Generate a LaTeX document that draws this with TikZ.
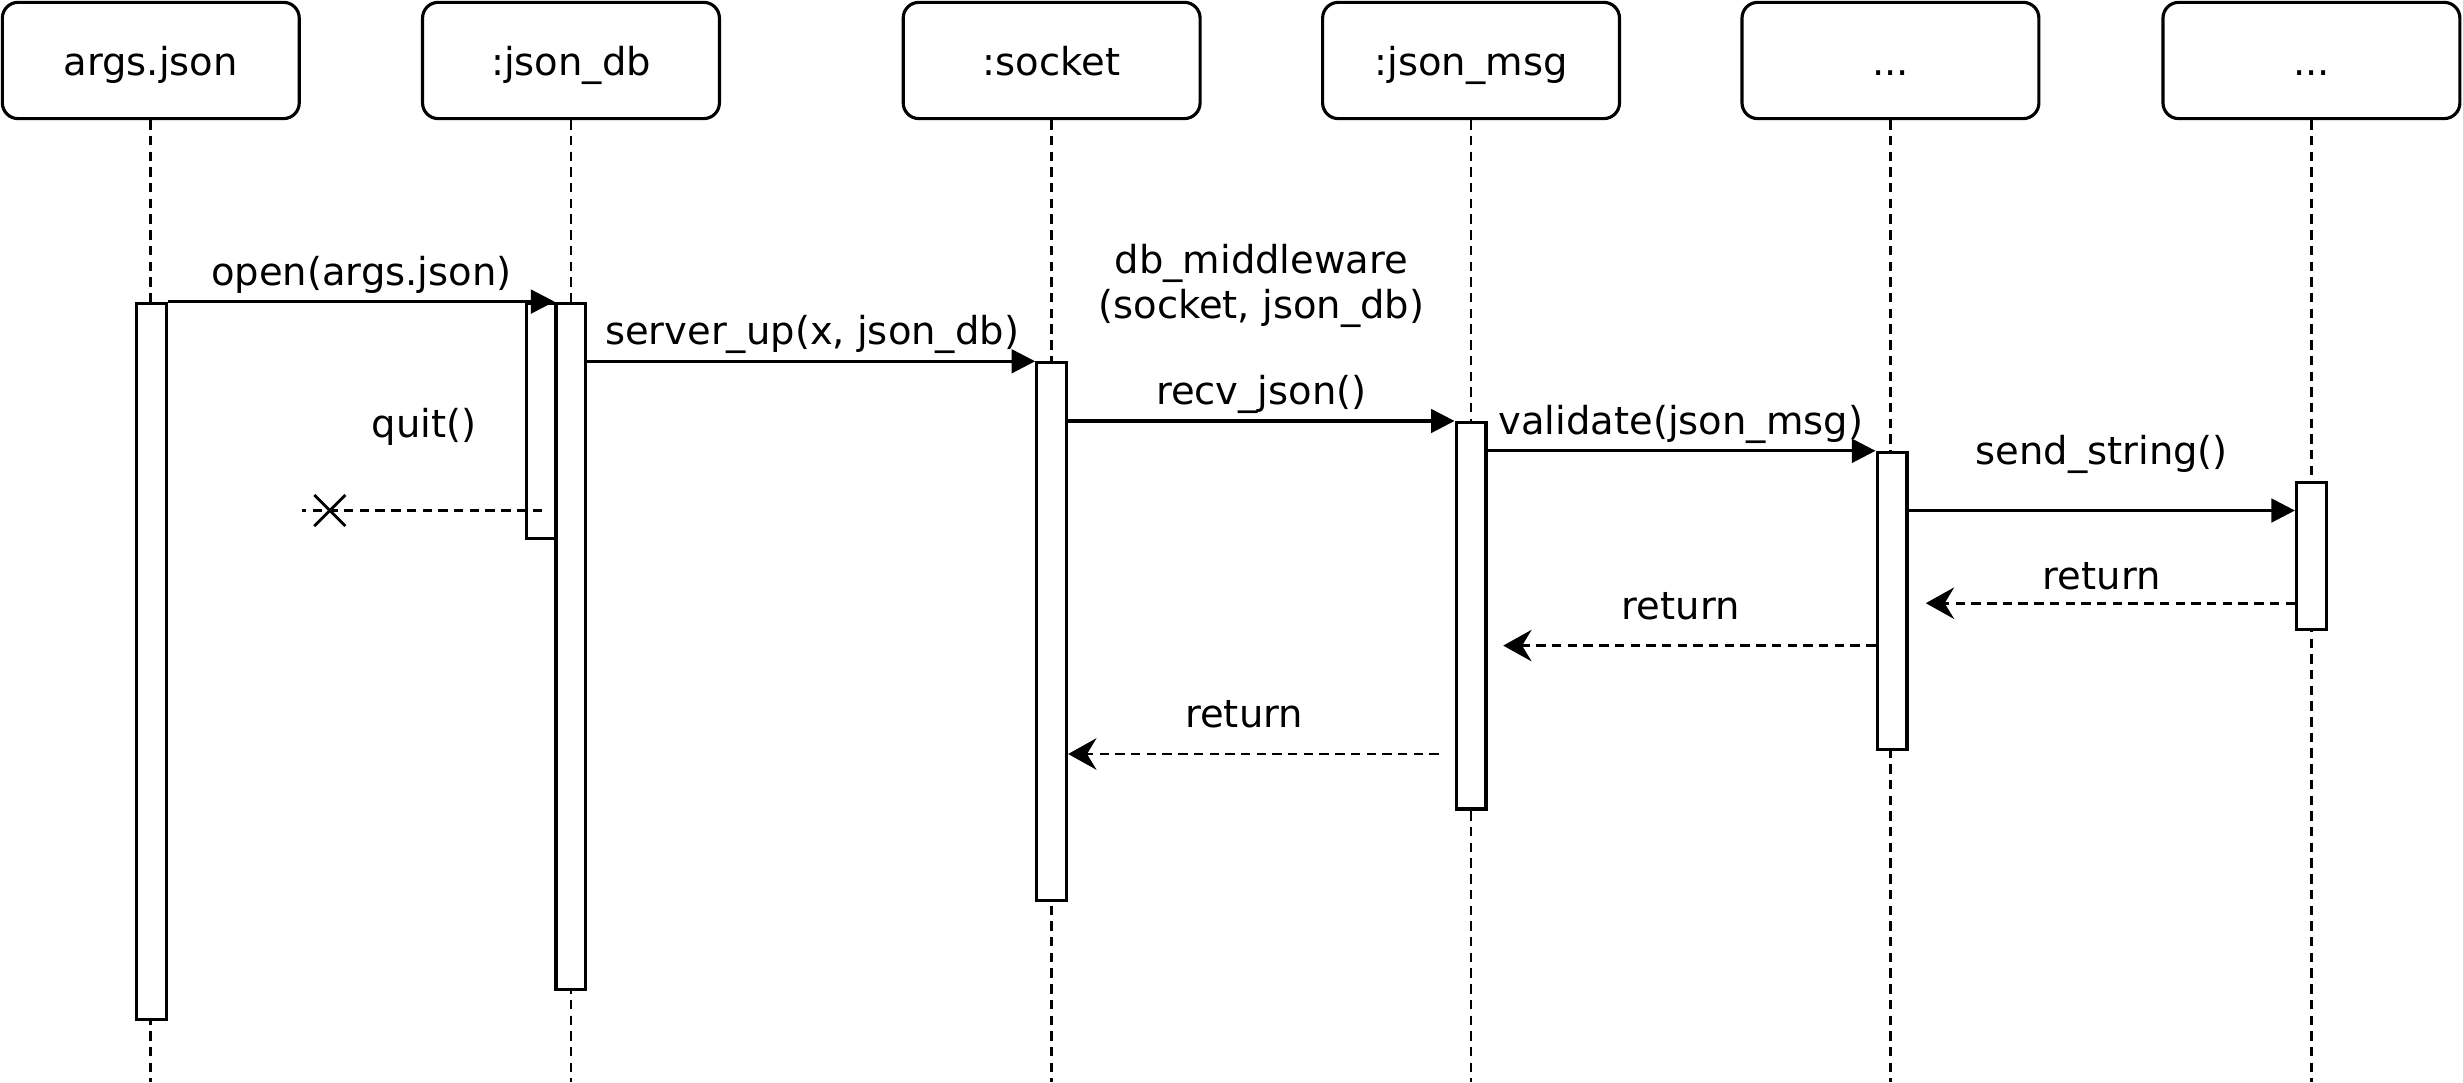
\documentclass[tikz,border=0pt]{standalone}
\usepackage{fontspec}
\setmainfont{DejaVu Sans}
\usetikzlibrary{arrows.meta}
\usetikzlibrary{shapes.misc}
\usetikzlibrary{positioning}

\tikzset{
  lifebox/.style={draw, rounded corners=10pt, minimum width=189pt, minimum height=74pt,
    line width=2pt, text height=22pt, text depth=3pt, font=\fontsize{24.5}{29}\selectfont},
  actbar/.style={draw, fill=white, minimum width=19pt, inner sep=0pt, line width=2pt, anchor=north},
  lifeline/.style={line width=1.8pt, dash pattern=on 6pt off 4pt},
  call/.style={line width=2pt, -{Triangle[length=15pt,width=15pt]}},
  reply/.style={line width=1.8pt, dash pattern=on 6pt off 4pt, -{Stealth[length=18pt,width=20pt,inset=6pt]}},
  msg/.style={font=\fontsize{24.5}{29}\selectfont, align=center, inner sep=0pt},
}

\begin{document}
\begin{tikzpicture}[x=1pt,y=-1pt]
  \useasboundingbox (0,0) rectangle (1568,689);

  \node[lifebox] (args) at (96,38.5) {args.json};
  \node[lifebox] (db) at (363.5,38.5) {:json\_db};
  \node[lifebox] (sock) at (669.5,38.5) {:socket};
  \node[lifebox] (msg) at (936.5,38.5) {:json\_msg};
  \node[lifebox] (dotsa) at (1203.5,38.5) {...};
  \node[lifebox] (dotsb) at (1471.5,38.5) {...};

  \coordinate (bottom) at (0,689);
  \foreach \n in {args,db,sock,msg,dotsa,dotsb}
    \draw[lifeline] (\n.south) -- (\n.south |- bottom);

  \node[actbar, minimum height=456pt] (argsbar) at (96.5,192) {};
  \node[actbar, minimum height=150pt] (dbextra) at (344.5,192) {};
  \node[actbar, minimum height=437pt] (dbbar) at (363.5,192) {};
  \node[actbar, minimum height=342pt] (sockbar) at (669.5,230) {};
  \node[actbar, minimum height=246pt] (msgbar) at (936.5,268) {};
  \node[actbar, minimum height=189pt] (dotsabar) at (1204.5,287) {};
  \node[actbar, minimum height=94pt] (dotsbbar) at (1471.5,306) {};

  \coordinate (sendrow) at (0,325);
  \coordinate (r1end) at (1226,384);
  \coordinate (r2end) at (957,411);
  \coordinate (r3start) at (916,480);
  \coordinate (quitfrom) at (345,325);
  \coordinate (quitend) at (192,325);

  \draw[call] (argsbar.north east) -- (dbbar.north west);
  \draw[call] (dbbar.east |- sockbar.north) -- (sockbar.north west);
  \draw[call] (sockbar.east |- msgbar.north) -- (msgbar.north west);
  \draw[call] (msgbar.east |- dotsabar.north) -- (dotsabar.north west);
  \draw[call] (dotsabar.east |- sendrow) -- (dotsbbar.west |- sendrow);

  \draw[reply] (dotsbbar.west |- r1end) -- (r1end);
  \draw[reply] (dotsabar.west |- r2end) -- (r2end);
  \draw[reply] (r3start) -- (sockbar.east |- r3start);

  \draw[lifeline] (quitfrom) -- (quitend);
  \node[draw, cross out, line width=1.8pt, minimum size=18pt, inner sep=0pt] (stop) at (210,325) {};

  \node[msg] (openlbl) at (230,175) {open(args.json)};
  \node[msg] (serverlbl) at (517,213) {server\_up(x, json\_db)};
  \node[msg] (mwlbl) at (803,182) {db\_middleware\\(socket, json\_db)};
  \node[msg] (recvlbl) at (803,251) {recv\_json()};
  \node[msg] (validlbl) at (1070,270) {validate(json\_msg)};
  \node[msg] (sendlbl) at (1338,289) {send\_string()};
  \node[msg] (ret1lbl) at (1338,367) {return};
  \node[msg] (ret2lbl) at (1070,386) {return};
  \node[msg] (ret3lbl) at (792,455) {return};
  \node[msg] (quitlbl) at (270,272) {quit()};
\end{tikzpicture}
\end{document}
